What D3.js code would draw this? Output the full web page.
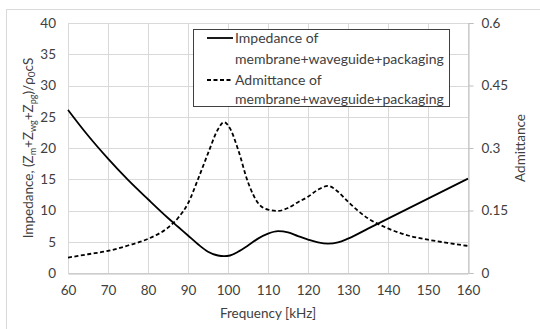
<!DOCTYPE html>
<html>
<head>
<meta charset="utf-8">
<script src="https://cdn.jsdelivr.net/npm/d3@7"></script>
<style>
  body { margin: 0; background: #fff; }
  svg text { font-family: Lato, "Open Sans", sans-serif; fill: #404040; }
</style>
</head>
<body>
<script>
// frequency [kHz]
var freq = [60, 65, 70, 75, 80, 85, 87.5, 90, 92.5, 95, 97.5, 99, 100.5, 102.5, 105, 107.5,
            110, 112.5, 115, 117.5, 120, 122.5, 125, 127.5, 130, 135, 140, 145, 150, 155, 160];
// impedance (left axis)
var impedance = [26.1, 22.0, 18.3, 14.9, 11.8, 8.8, 7.4, 6.0, 4.6, 3.4, 2.8, 2.7, 2.8, 3.4, 4.4, 5.5,
                 6.3, 6.7, 6.5, 5.9, 5.35, 4.9, 4.7, 4.9, 5.5, 7.1, 8.7, 10.3, 11.9, 13.5, 15.1];
// admittance (right axis)
var admittance = [0.037, 0.045, 0.053, 0.066, 0.082, 0.109, 0.132, 0.167, 0.225, 0.287, 0.345, 0.362, 0.347, 0.297, 0.218, 0.168,
                  0.152, 0.149, 0.156, 0.170, 0.183, 0.200, 0.209, 0.195, 0.171, 0.131, 0.107, 0.090, 0.080, 0.072, 0.065];
var xTicks = [60, 70, 80, 90, 100, 110, 120, 130, 140, 150, 160];
var yTicks = [0, 5, 10, 15, 20, 25, 30, 35, 40];
var y2Ticks = [0, 0.15, 0.3, 0.45, 0.6];
var legendLabels = [["Impedance of", "membrane+waveguide+packaging"],
                    ["Admittance of", "membrane+waveguide+packaging"]];

var W = 540, H = 329;
var margin = {top: 23, right: 72, bottom: 56, left: 68};
var width = W - margin.left - margin.right,
    height = H - margin.top - margin.bottom;

var svg = d3.select("body").append("svg")
    .attr("width", W)
    .attr("height", H);

// outer chart border
svg.append("rect")
    .attr("x", 6.5).attr("y", 9.5)
    .attr("width", 540).attr("height", 330)
    .attr("fill", "none").attr("stroke", "#d9d9d9");

var g = svg.append("g")
    .attr("transform", "translate(" + margin.left + "," + margin.top + ")");

var x = d3.scaleLinear().domain([60, 160]).range([0, width]);
var y = d3.scaleLinear().domain([0, 40]).range([height, 0]);
var y2 = d3.scaleLinear().domain([0, 0.6]).range([height, 0]);

// gridlines
g.selectAll(".vgrid").data(xTicks).enter().append("line")
    .attr("x1", function(d) { return Math.round(x(d)) + 0.5; })
    .attr("x2", function(d) { return Math.round(x(d)) + 0.5; })
    .attr("y1", 0).attr("y2", height)
    .attr("stroke", "#d9d9d9");
g.selectAll(".hgrid").data(yTicks).enter().append("line")
    .attr("x1", 0).attr("x2", width)
    .attr("y1", function(d) { return Math.round(y(d)) + 0.5; })
    .attr("y2", function(d) { return Math.round(y(d)) + 0.5; })
    .attr("stroke", "#d9d9d9");

// axes
var xAxis = g.append("g")
    .attr("transform", "translate(0," + (height + 0.5) + ")")
    .call(d3.axisBottom(x).tickValues(xTicks).tickSize(0).tickPadding(12));
xAxis.select(".domain").attr("stroke", "#bfbfbf");

var yAxis = g.append("g")
    .call(d3.axisLeft(y).tickValues(yTicks).tickSize(0).tickPadding(12));
yAxis.select(".domain").remove();

var y2Axis = g.append("g")
    .attr("transform", "translate(" + (width + 0.5) + ",0)")
    .call(d3.axisRight(y2).tickValues(y2Ticks).tickSize(5).tickPadding(8)
      .tickFormat(function(d) { return String(+d.toFixed(2)); }));
y2Axis.selectAll(".domain, line").attr("stroke", "#bfbfbf");

g.selectAll(".tick text").attr("font-size", 13.5).attr("fill", "#404040")
    .style("font-family", "Lato, sans-serif");

// curves
var line1 = d3.line()
    .x(function(d, i) { return x(freq[i]); })
    .y(function(d) { return y(d); })
    .curve(d3.curveMonotoneX);
var line2 = d3.line()
    .x(function(d, i) { return x(freq[i]); })
    .y(function(d) { return y2(d); })
    .curve(d3.curveMonotoneX);

g.append("path").datum(admittance)
    .attr("d", line2)
    .attr("fill", "none").attr("stroke", "#000")
    .attr("stroke-width", 1.8).attr("stroke-dasharray", "4,2.5");
g.append("path").datum(impedance)
    .attr("d", line1)
    .attr("fill", "none").attr("stroke", "#000")
    .attr("stroke-width", 1.8);

// axis titles
svg.append("text")
    .attr("x", margin.left + width / 2).attr("y", 318)
    .attr("text-anchor", "middle").attr("font-size", 13.5)
    .text("Frequency [kHz]");

var lt = svg.append("text")
    .attr("transform", "translate(33," + (margin.top + height / 2) + ") rotate(-90)")
    .attr("text-anchor", "middle").attr("font-size", 13.5);
lt.append("tspan").text("Impedance, (Z");
lt.append("tspan").attr("font-size", 9).attr("dy", 3).text("m");
lt.append("tspan").attr("dy", -3).text("+Z");
lt.append("tspan").attr("font-size", 9).attr("dy", 3).text("wg");
lt.append("tspan").attr("dy", -3).text("+Z");
lt.append("tspan").attr("font-size", 9).attr("dy", 3).text("pg");
lt.append("tspan").attr("dy", -3).text(")/ρ");
lt.append("tspan").attr("font-size", 10).attr("dy", 2).text("0");
lt.append("tspan").attr("dy", -2).text("cS");

svg.append("text")
    .attr("transform", "translate(525," + (margin.top + height / 2) + ") rotate(-90)")
    .attr("text-anchor", "middle").attr("font-size", 13.5)
    .text("Admittance");

// legend
var leg = svg.append("g");
leg.append("rect")
    .attr("x", 193.5).attr("y", 29.5)
    .attr("width", 256).attr("height", 77)
    .attr("fill", "#fff").attr("stroke", "#404040");
var legY = [38, 80];
var legBase = [[43, 63.5], [85, 104]];
legendLabels.forEach(function(lab, i) {
  leg.append("line")
    .attr("x1", 207).attr("x2", 233)
    .attr("y1", legY[i]).attr("y2", legY[i])
    .attr("stroke", "#000").attr("stroke-width", 1.8)
    .attr("stroke-dasharray", i === 1 ? "4,2.5" : null);
  leg.append("text")
    .attr("x", 235).attr("y", legBase[i][0])
    .attr("font-size", 14).text(lab[0]);
  leg.append("text")
    .attr("x", 235).attr("y", legBase[i][1])
    .attr("font-size", 14).text(lab[1]);
});
</script>
</body>
</html>
